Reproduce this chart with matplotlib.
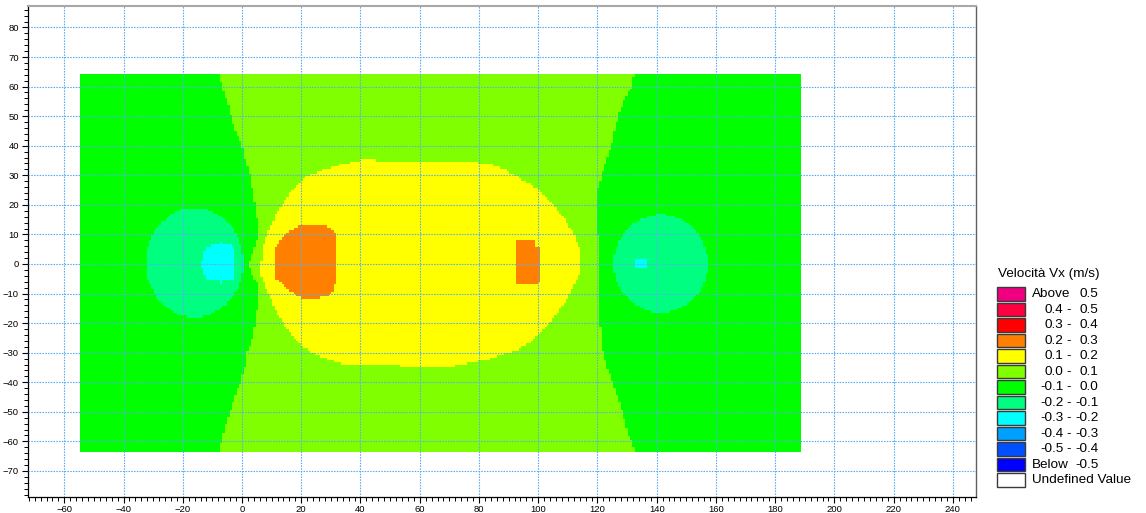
import numpy as np
import matplotlib
matplotlib.use("Agg")
import matplotlib.pyplot as plt
from matplotlib.path import Path
from matplotlib.patches import Ellipse, Rectangle
from matplotlib.colors import ListedColormap, BoundaryNorm

# ---- colour scale for Vx (m/s) -------------------------------------------
VX_BOUNDS = [-0.6, -0.5, -0.4, -0.3, -0.2, -0.1, 0.0, 0.1, 0.2, 0.3, 0.4, 0.5, 0.6]
VX_COLORS = ["#0000ff", "#0050ff", "#00a0ff", "#00ffff", "#00ff80", "#00ff00",
             "#80ff00", "#ffff00", "#ff8000", "#ff0000", "#ff0040", "#f00080"]

# legend rows, top to bottom: (left text, separator, right text)
LEGEND_ROWS = [("Above", "", "0.5"), ("0.4", "-", "0.5"), ("0.3", "-", "0.4"),
               ("0.2", "-", "0.3"), ("0.1", "-", "0.2"), ("0.0", "-", "0.1"),
               ("-0.1", "-", "0.0"), ("-0.2", "-", "-0.1"), ("-0.3", "-", "-0.2"),
               ("-0.4", "-", "-0.3"), ("-0.5", "-", "-0.4"), ("Below", "", "-0.5")]
LEGEND_TITLE = "Velocità Vx (m/s)"
UNDEFINED_LABEL = "Undefined Value"

# ---- computational domain (m) --------------------------------------------
DOMAIN_X = (-54.6, 188.6)
DOMAIN_Y = (-63.6, 64.1)
CELL = 0.8

# ---- Vx value of each zone ----------------------------------------------
VX_FREE = 0.05        # surrounding flow
VX_WAKE = -0.05       # upstream / downstream bands
VX_EDDY = -0.15       # recirculation discs
VX_EDDY_CORE = -0.25  # centres of the discs
VX_JET = 0.15         # central accelerated zone
VX_JET_CORE = 0.25    # peaks inside the accelerated zone

# west band boundary (x, y) from top to bottom
WEST_EDGE_X = [-7.4, -7.4, -6.7, -5.0, -3.7, -2.2, 0.0, 1.1, 2.8, 3.7, 4.4, 5.0, 5.5,
               3.2, 2.3, 3.2, 5.0, 5.5, 5.0, 4.4, 3.3, 1.6, 1.0, -0.5, -2.4, -4.1,
               -5.7, -6.9, -7.4, -7.4]
WEST_EDGE_Y = [70.0, 64.0, 60.0, 55.0, 50.0, 45.0, 40.0, 35.0, 30.0, 24.0, 20.0, 15.8,
               10.0, 3.0, 0.0, -3.0, -6.5, -10.0, -15.5, -20.0, -25.7, -30.0, -34.7,
               -40.0, -44.8, -50.0, -55.0, -60.0, -64.0, -70.0]

# east band boundary (x, y) from top to bottom
EAST_EDGE_X = [132.4, 132.4, 131.6, 130.2, 127.6, 126.0, 124.8, 122.9, 121.5, 119.8,
               119.6, 120.3, 120.5, 120.4, 120.9, 121.9, 123.3, 125.1, 126.4, 128.5,
               129.8, 131.5, 132.7, 132.7]
EAST_EDGE_Y = [70.0, 64.0, 60.0, 57.5, 52.0, 46.0, 40.0, 35.0, 30.0, 25.0,
               20.0, 8.0, 0.0, -10.0, -20.0, -30.0, -35.0, -40.0, -44.0, -50.0,
               -56.0, -60.0, -63.5, -70.0]

# outline of the accelerated zone
JET_X = [6.5, 7.0, 8.7, 11.0, 13.8, 17.2, 20.6, 26.2, 33.0, 39.7, 74.6, 83.6, 89.3,
         94.9, 100.6, 105.1, 109.0, 111.9, 114.1, 114.1, 112.4, 109.6, 106.2, 102.8,
         98.3, 92.7, 84.7, 73.4, 70.0, 39.7, 33.0, 26.2, 20.6, 17.2, 13.8, 11.5, 9.3,
         7.6, 6.5]
JET_Y = [0.0, 5.8, 10.3, 16.0, 20.4, 25.5, 28.9, 31.5, 33.4, 35.0, 34.8, 33.7, 31.7,
         28.3, 24.9, 19.9, 15.4, 10.3, 4.7, -3.2, -6.6, -12.2, -16.7, -21.2,
         -25.7, -29.1, -31.9, -34.2, -34.8, -34.2, -33.6, -31.4, -28.0, -24.6, -20.0,
         -15.6, -11.0, -6.6, -4.3]

# west peak inside the accelerated zone
PEAK_W_X = [11.3, 13.5, 15.7, 18.0, 22.0, 25.0, 28.0, 30.7, 31.9, 31.8, 30.8, 29.1,
            25.0, 22.3, 18.9, 16.6, 13.8, 11.3]
PEAK_W_Y = [5.8, 8.6, 10.9, 12.5, 13.3, 13.0, 12.8, 11.4, 9.7, -5.5, -8.9, -10.5,
            -11.6, -11.9, -11.1, -9.4, -7.2, -4.9]

# east peak inside the accelerated zone
PEAK_E_X = [92.4, 99.0, 99.0, 100.4, 100.4, 99.5, 92.4]
PEAK_E_Y = [8.0, 8.0, 5.5, 5.5, -5.5, -7.2, -7.2]

# recirculation discs: centre x, centre y, width, height
EDDY_W = (-16.0, 0.45, 33.0, 37.0)
EDDY_E = (141.4, 0.15, 31.8, 33.2)

# cores of the discs
CORE_W_X = [-12.8, -11.6, -7.3, -6.7, -6.0, -3.0, -2.4, -2.4, -3.3, -6.4, -6.8, -7.3,
            -11.6, -12.8, -14.2, -12.8]
CORE_W_Y = [4.0, 6.2, 6.4, 8.3, 6.4, 6.2, 4.0, -4.0, -5.6, -5.6, -7.2, -5.6,
            -5.6, -3.0, 0.6, 1.0]
CORE_E_X = [132.5, 136.3, 136.3, 132.5]
CORE_E_Y = [2.0, 2.0, -1.1, -1.1]

# ---- build the cell field -------------------------------------------------
nx = int(round((DOMAIN_X[1] - DOMAIN_X[0]) / CELL))
ny = int(round((DOMAIN_Y[1] - DOMAIN_Y[0]) / CELL))
xe = np.linspace(DOMAIN_X[0], DOMAIN_X[1], nx + 1)
ye = np.linspace(DOMAIN_Y[0], DOMAIN_Y[1], ny + 1)
xc = 0.5 * (xe[:-1] + xe[1:])
yc = 0.5 * (ye[:-1] + ye[1:])
XC, YC = np.meshgrid(xc, yc)
pts = np.column_stack([XC.ravel(), YC.ravel()])

field = np.full(XC.shape, VX_FREE)


def paint(path, value):
    inside = path.contains_points(pts).reshape(XC.shape)
    field[inside] = value


west = Path(list(zip(WEST_EDGE_X, WEST_EDGE_Y)) + [(-80.0, -70.0), (-80.0, 70.0)])
east = Path(list(zip(EAST_EDGE_X, EAST_EDGE_Y)) + [(220.0, -70.0), (220.0, 70.0)])
paint(west, VX_WAKE)
paint(east, VX_WAKE)
for cx, cy, w, h in (EDDY_W, EDDY_E):
    e = Ellipse((cx, cy), w, h)
    paint(e.get_transform().transform_path(e.get_path()), VX_EDDY)
paint(Path(list(zip(CORE_W_X, CORE_W_Y))), VX_EDDY_CORE)
paint(Path(list(zip(CORE_E_X, CORE_E_Y))), VX_EDDY_CORE)
paint(Path(list(zip(JET_X, JET_Y))), VX_JET)
paint(Path(list(zip(PEAK_W_X, PEAK_W_Y))), VX_JET_CORE)
paint(Path(list(zip(PEAK_E_X, PEAK_E_Y))), VX_JET_CORE)

# ---- figure ---------------------------------------------------------------
plt.rcParams["font.family"] = ["Liberation Sans", "DejaVu Sans"]
fig = plt.figure(figsize=(11.46, 5.13), dpi=100)
W, H = 1146.0, 513.0
ax = fig.add_axes([27.7 / W, 1 - 496.7 / H, (976.3 - 27.7) / W, (496.7 - 6.3) / H])

cmap = ListedColormap(VX_COLORS)
norm = BoundaryNorm(VX_BOUNDS, cmap.N)
ax.pcolormesh(xe, ye, field, cmap=cmap, norm=norm, shading="flat",
              antialiased=False, linewidth=0, rasterized=True)

ax.set_xlim(-72.35, 247.9)
ax.set_ylim(-78.7, 87.15)
ax.set_xticks(np.arange(-60, 241, 20))
ax.set_yticks(np.arange(-70, 81, 10))
ax.set_xticks(np.arange(-72, 248, 2), minor=True)
ax.set_yticks(np.arange(-78, 87, 2), minor=True)
ax.tick_params(which="major", direction="out", length=4.3, width=0.8,
               labelsize=6.8, pad=2.0, colors="#000000")
ax.tick_params(which="minor", direction="out", length=2.6, width=0.7)
ax.set_axisbelow(False)
ax.grid(True, which="major", color="#5aacf5", linestyle=(0, (1.4, 1.1)),
        linewidth=0.8)

for side in ("left", "bottom"):
    ax.spines[side].set_color("#000000")
    ax.spines[side].set_linewidth(0.9)
ax.spines["top"].set_color("#a8a8a8")
ax.spines["top"].set_linewidth(1.5)
ax.spines["right"].set_color("#606060")
ax.spines["right"].set_linewidth(1.0)

# ---- legend panel ---------------------------------------------------------
def fx(px):
    return px / W


def fy(py):
    return 1 - py / H


fs = 9.7
fig.text(fx(998.5), fy(273.5), LEGEND_TITLE, fontsize=fs, va="center", ha="left")
sw_left, sw_w, sw_h, sw_top, sw_step = 996.7, 28.0, 13.4, 287.3, 15.5
legend_colors = list(reversed(VX_COLORS)) + ["#ffffff"]
for i, col in enumerate(legend_colors):
    top = sw_top + i * sw_step
    fig.add_artist(Rectangle((fx(sw_left), fy(top + sw_h)), sw_w / W, sw_h / H,
                             transform=fig.transFigure, facecolor=col,
                             edgecolor="#3a3a3a", linewidth=1.0))
    yc_txt = fy(top + sw_h / 2 + 0.3)
    if i < len(LEGEND_ROWS):
        left, sep, right = LEGEND_ROWS[i]
        if sep:
            fig.text(fx(1063.3), yc_txt, left, fontsize=fs, ha="right", va="center")
            fig.text(fx(1068.5), yc_txt, sep, fontsize=fs, ha="center", va="center")
        else:
            fig.text(fx(1031.7), yc_txt, left, fontsize=fs, ha="left", va="center")
        fig.text(fx(1098.3), yc_txt, right, fontsize=fs, ha="right", va="center")
    else:
        fig.text(fx(1031.7), yc_txt, UNDEFINED_LABEL, fontsize=fs, ha="left",
                 va="center")

fig.savefig("out.png", dpi=100)
